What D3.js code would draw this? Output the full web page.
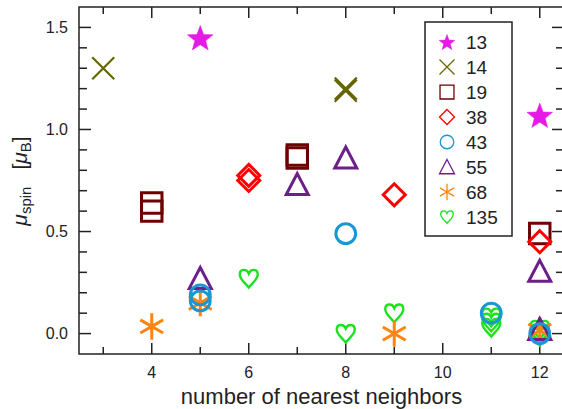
<!DOCTYPE html>
<html>
<head>
<meta charset="utf-8">
<script src="https://cdn.jsdelivr.net/npm/d3@7"></script>
<style>
body{margin:0;background:#fff;}
text{font-family:"Liberation Sans",Arial,sans-serif;fill:#222;}
</style>
</head>
<body>
<div id="chart"></div>
<script>
/* cluster sizes (legend) */
const sizes = ["13","14","19","38","43","55","68","135"];
/* x = number of nearest neighbors, y = spin moment */
const nn13 = [5,12],              mu13 = [1.45,1.07];
const nn14 = [3,8,8],             mu14 = [1.30,1.19,1.20];
const nn19 = [4,4,7,7,12],        mu19 = [0.60,0.64,0.86,0.875,0.49];
const nn38 = [6,6,9,12],          mu38 = [0.75,0.775,0.68,0.45];
const nn43 = [5,5,8,11,12],       mu43 = [0.19,0.16,0.49,0.10,0.0];
const nn55 = [5,7,8,12,12],       mu55 = [0.27,0.73,0.86,0.305,0.02];
const nn68 = [4,5,9,12],          mu68 = [0.035,0.15,0.0,0.015];
const nn135 = [6,8,9,11,11,11,12,12,12];
const mu135 = [0.27,0.0,0.10,0.08,0.055,0.03,0.02,0.0,-0.015];

const xTicks = [4,6,8,10,12];
const yTicks = [0.0,0.5,1.0,1.5];

const series = [
  {name:"13", nn:nn13, mu:mu13, sym:"star",     col:"#e619e6"},
  {name:"14", nn:nn14, mu:mu14, sym:"cross",    col:"#666600"},
  {name:"19", nn:nn19, mu:mu19, sym:"square",   col:"#6e0000"},
  {name:"38", nn:nn38, mu:mu38, sym:"diamond",  col:"#ff0000"},
  {name:"43", nn:nn43, mu:mu43, sym:"circle",   col:"#1a96d2"},
  {name:"55", nn:nn55, mu:mu55, sym:"triangle", col:"#6b1f88"},
  {name:"68", nn:nn68, mu:mu68, sym:"asterisk", col:"#ff8410"},
  {name:"135",nn:nn135,mu:mu135,sym:"heart",    col:"#1ee11e"}
];
// drawing order seen in picture (circles end up on top)
const drawOrder = ["135","68","55","19","38","14","13","43"];

var W = 562, H = 409;
var margin = {top:7,right:-2,bottom:55,left:79};
var w = W - margin.left - margin.right,
    h = H - margin.top - margin.bottom;

var svg = d3.select("#chart").append("svg")
  .attr("width",W).attr("height",H);

var x = d3.scaleLinear().domain([2.5,12.5]).range([margin.left, margin.left+w]);
var y = d3.scaleLinear().domain([-0.1,1.6]).range([margin.top+h, margin.top]);

/* symbol path, s = size in px */
function symPath(type,s){
  var r = s/2, p = d3.path();
  if(type=="star"){
    for(let i=0;i<10;i++){
      let a = -Math.PI/2 + i*Math.PI/5, rr = (i%2==0)? r : r*0.42;
      let px = rr*Math.cos(a), py = rr*Math.sin(a)+r*0.1;
      if(i==0) p.moveTo(px,py); else p.lineTo(px,py);
    }
    p.closePath();
  } else if(type=="cross"){
    p.moveTo(-r,-r); p.lineTo(r,r); p.moveTo(r,-r); p.lineTo(-r,r);
  } else if(type=="square"){
    p.rect(-r*0.93,-r*0.93,r*1.86,r*1.86);
  } else if(type=="diamond"){
    p.moveTo(0,-r); p.lineTo(r,0); p.lineTo(0,r); p.lineTo(-r,0); p.closePath();
  } else if(type=="circle"){
    p.arc(0,0,r*0.9,0,2*Math.PI);
  } else if(type=="triangle"){
    p.moveTo(0,-r); p.lineTo(r,r*0.9); p.lineTo(-r,r*0.9); p.closePath();
  } else if(type=="asterisk"){
    for(let k=0;k<3;k++){
      let a = Math.PI/2 + k*Math.PI/3;
      p.moveTo(r*1.1*Math.cos(a),r*1.1*Math.sin(a));
      p.lineTo(-r*1.1*Math.cos(a),-r*1.1*Math.sin(a));
    }
  } else if(type=="heart"){
    let k = s/20;
    p.moveTo(0,9*k);
    p.bezierCurveTo(-3*k,5*k,-9*k,1*k,-9*k,-4*k);
    p.bezierCurveTo(-9*k,-10*k,-2*k,-10*k,0,-5*k);
    p.bezierCurveTo(2*k,-10*k,9*k,-10*k,9*k,-4*k);
    p.bezierCurveTo(9*k,1*k,3*k,5*k,0,9*k);
    p.closePath();
  }
  return p.toString();
}

/* frame */
svg.append("rect")
  .attr("x",margin.left).attr("y",margin.top)
  .attr("width",w).attr("height",h)
  .attr("fill","none").attr("stroke","#222").attr("stroke-width",1.5);

/* ticks, all pointing inward */
var tk = svg.append("g").attr("stroke","#222").attr("stroke-width",1.5);
d3.range(3,13).forEach(function(v){
  var len = (v%2==0)? 11 : 7;
  tk.append("line").attr("x1",x(v)).attr("x2",x(v)).attr("y1",y(-0.1)).attr("y2",y(-0.1)-len);
  tk.append("line").attr("x1",x(v)).attr("x2",x(v)).attr("y1",y(1.6)).attr("y2",y(1.6)+len);
});
d3.range(0,16).forEach(function(i){
  var v = i/10, len = (i%5==0)? 12 : 8;
  tk.append("line").attr("x1",x(2.5)).attr("x2",x(2.5)+len).attr("y1",y(v)).attr("y2",y(v));
  tk.append("line").attr("x1",x(12.5)).attr("x2",x(12.5)-len).attr("y1",y(v)).attr("y2",y(v));
});

/* tick labels */
svg.append("g").selectAll("text").data(xTicks).enter().append("text")
  .attr("x",d=>x(d)).attr("y",378)
  .attr("text-anchor","middle").attr("font-size",16)
  .text(d=>d);
svg.append("g").selectAll("text").data(yTicks).enter().append("text")
  .attr("x",68).attr("y",d=>y(d)).attr("dy","0.36em")
  .attr("text-anchor","end").attr("font-size",16)
  .text(d=>d.toFixed(1));

/* axis titles */
svg.append("text")
  .attr("x",(x(2.5)+x(12.5))/2).attr("y",404)
  .attr("text-anchor","middle").attr("font-size",22)
  .text("number of nearest neighbors");

var yl = svg.append("text")
  .attr("transform","translate(27,181)rotate(-90)")
  .attr("text-anchor","middle").attr("font-size",21);
yl.append("tspan").attr("font-style","italic").text("μ");
yl.append("tspan").attr("font-size",15).attr("dy",4).text("spin");
yl.append("tspan").attr("dy",-4).attr("dx",17).text("[");
yl.append("tspan").attr("font-style","italic").text("μ");
yl.append("tspan").attr("font-size",15).attr("dy",4).text("B");
yl.append("tspan").attr("dy",-4).text("]");

/* markers */
drawOrder.forEach(function(nm){
  var s = series.find(d=>d.name==nm);
  var pts = s.nn.map((v,i)=>({nn:v,mu:s.mu[i]}));
  var filled = s.sym=="star";
  var sw = (s.sym=="cross")? 2.2 : (s.sym=="heart"? 2.4 : 3);
  var sz = (s.sym=="asterisk")? 24 : (s.sym=="heart"? 20 : (filled? 27 : 22));
  svg.append("g").selectAll("path").data(pts).enter().append("path")
    .attr("transform",d=>`translate(${x(d.nn)},${y(d.mu)})`)
    .attr("d",symPath(s.sym,sz))
    .attr("fill",filled? s.col : "none")
    .attr("stroke",s.col)
    .attr("stroke-width",filled? 0.5 : sw)
    .attr("stroke-linejoin","miter");
});

/* legend */
var lg = svg.append("g");
lg.append("rect").attr("x",425).attr("y",22).attr("width",87).attr("height",214)
  .attr("fill","#fff").attr("stroke","#222").attr("stroke-width",1.5);
series.forEach(function(s,i){
  var cy = 42 + i*25;
  var filled = s.sym=="star";
  lg.append("path")
    .attr("transform",`translate(447,${cy})`)
    .attr("d",symPath(s.sym,s.sym=="heart"? 14 : (filled? 17 : 15)))
    .attr("fill",filled? s.col : "none")
    .attr("stroke",s.col).attr("stroke-width",filled? 0.3 : 1.3);
  lg.append("text").attr("x",466).attr("y",cy).attr("dy","0.36em")
    .attr("font-size",19).text(s.name);
});
</script>
</body>
</html>
